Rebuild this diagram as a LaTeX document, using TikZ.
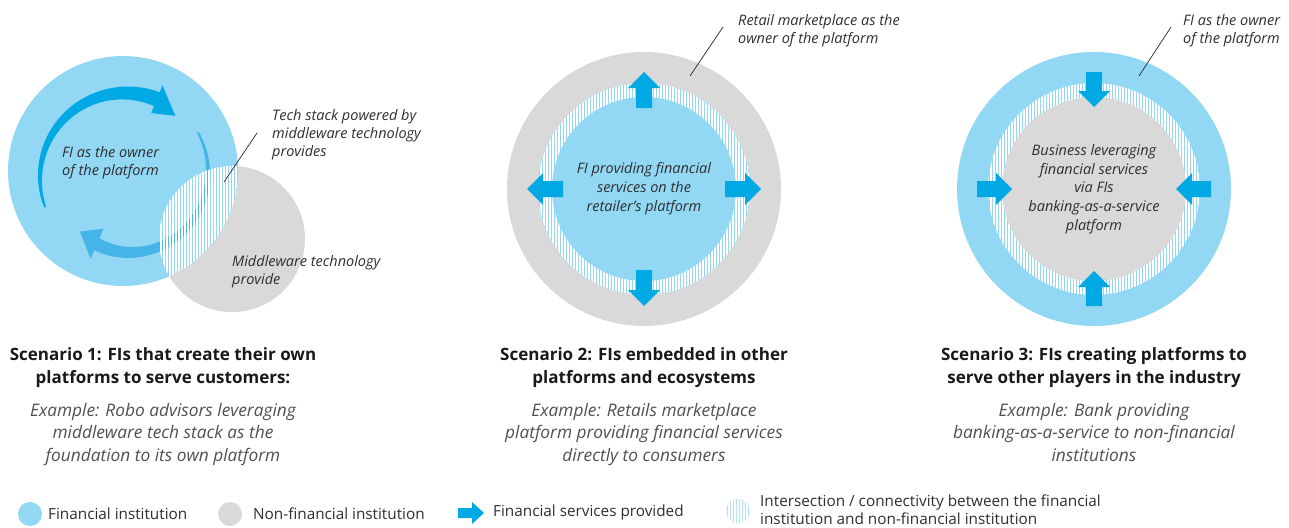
\documentclass[tikz,border=0pt]{standalone}
\usepackage{fontspec}
\setmainfont{Open Sans}
\usetikzlibrary{positioning}
\definecolor{fiblue}{HTML}{92D7F4}
\definecolor{nfgray}{HTML}{D9D9D9}
\definecolor{svcblue}{HTML}{00A9E4}
\definecolor{loopblue}{HTML}{45B4E6}
\definecolor{txtgray}{HTML}{2E2E2E}
\definecolor{exgray}{HTML}{505050}

\begin{document}
\begin{tikzpicture}[x=1pt,y=-1pt,
    note/.style={font=\fontsize{14.5}{18}\selectfont\itshape, text=txtgray, inner sep=0pt},
    title/.style={font=\fontsize{17}{23}\selectfont\bfseries, text=black!90, align=center, inner sep=0pt, anchor=north},
    example/.style={font=\fontsize{17.3}{22.5}\selectfont\itshape, text=exgray, align=center, inner sep=0pt, anchor=north},
    legend/.style={font=\fontsize{15.3}{18}\selectfont, text=txtgray, inner sep=0pt, anchor=west, align=left},
    hatch/.style={white, line width=1.6pt},
    leader/.style={black!85, line width=0.7pt}]
\useasboundingbox (0,0) rectangle (1289,527);

% scenario 1
\coordinate (c1) at (123,171);
\coordinate (c1b) at (232,239);
\coordinate (c1a) at (125,178);
\fill[nfgray] (c1b) circle (73);
\fill[fiblue] (c1) circle (115);
\fill[svcblue, shift={(c1a)}] plot[domain=200:68, samples=40] ({-\x}:{85+(1+6.5*(200-\x)/132)})
    -- (-68:100) -- (-51:80) -- (-68:70)
    -- plot[domain=68:200, samples=40] ({-\x}:{85-(1+6.5*(200-\x)/132)}) -- cycle;
\fill[loopblue, shift={(c1a)}] plot[domain=32:-113, samples=40] ({-\x}:{86-14*(32-\x)/145+(1+5.5*(32-\x)/145)})
    -- (113:88) -- (130:70) -- (113:55)
    -- plot[domain=-113:32, samples=40] ({-\x}:{86-14*(32-\x)/145-(1+5.5*(32-\x)/145)}) -- cycle;
\begin{scope}
  \clip (c1) circle (115);
  \clip (c1b) circle (73);
  \foreach \x in {158,161,...,240} \draw[hatch] (\x,160) -- (\x,300);
\end{scope}
\node[note, anchor=north west, align=left] (own1) at (62,146) {FI as the owner\\of the platform};
\node[note, anchor=north west, align=left] (tech1) at (272,109) {Tech stack powered by\\middleware technology\\provides};
\node[note, anchor=north west, align=left] (mid1) at (232,255) {Middleware technology\\provide};
\coordinate (l1a) at (257,133);
\coordinate (l1b) at (224,182);
\draw[leader] (l1a) -- (l1b);

% scenario 2
\coordinate (c2) at (644,189);
\fill[nfgray] (c2) circle (137);
\fill[fiblue] (c2) circle (106);
\begin{scope}
  \clip (c2) circle (106);
  \foreach \x in {538,541,...,751} \draw[hatch] (\x,80) -- (\x,300);
\end{scope}
\fill[fiblue] (c2) circle (92);
\foreach \a in {0,90,180,270}
  \fill[svcblue, shift={(c2)}, rotate=\a] (81,-8) -- (101,-8) -- (101,-16) -- (117,0) -- (101,16) -- (101,8) -- (81,8) -- cycle;
\node[note, align=center, font=\fontsize{14.5}{19}\selectfont\itshape] (fi2) at (c2) {FI providing financial\\services on the\\retailer’s platform};
\node[note, anchor=north west, align=left] (own2) at (738,14) {Retail marketplace as the\\owner of the platform};
\coordinate (l2a) at (723,27);
\coordinate (l2b) at (690,76);
\draw[leader] (l2a) -- (l2b);

% scenario 3
\coordinate (c3) at (1094,189);
\fill[fiblue] (c3) circle (137);
\fill[fiblue] (c3) circle (106);
\begin{scope}
  \clip (c3) circle (106);
  \foreach \x in {988,991,...,1201} \draw[hatch] (\x,80) -- (\x,300);
\end{scope}
\fill[nfgray] (c3) circle (92);
\foreach \a in {0,90,180,270}
  \fill[svcblue, shift={(c3)}, rotate=\a] (117,-8) -- (98,-8) -- (98,-16) -- (82,0) -- (98,16) -- (98,8) -- (117,8) -- cycle;
\node[note, align=center, font=\fontsize{14.5}{18.75}\selectfont\itshape] (biz3) at (c3) {Business leveraging\\financial services\\via FIs\\banking-as-a-service\\platform};
\node[note, anchor=north west, align=left] (own3) at (1183,14) {FI as the owner\\of the platform};
\coordinate (l3a) at (1171,27);
\coordinate (l3b) at (1139,76);
\draw[leader] (l3a) -- (l3b);

% titles and examples
\node[title] (s1) at (163,347) {Scenario 1: FIs that create their own\\platforms to serve customers:};
\node[title] (s2) at (644,347) {Scenario 2: FIs embedded in other\\platforms and ecosystems};
\node[title] (s3) at (1094,347) {Scenario 3: FIs creating platforms to\\serve other players in the industry};
\node[example] (e1) at (163,403) {Example: Robo advisors leveraging\\middleware tech stack as the\\foundation to its own platform};
\node[example] (e2) at (644,403) {Example: Retails marketplace\\platform providing financial services\\directly to consumers};
\node[example] (e3) at (1094,403) {Example: Bank providing\\banking-as-a-service to non-financial\\institutions};

% legend
\fill[fiblue] (30,514) circle (12);
\fill[nfgray] (230,514) circle (12);
\fill[svcblue] (458,508) -- (472,508) -- (472,502) -- (484,513) -- (472,524) -- (472,518) -- (458,518) -- cycle;
\fill[fiblue!70] (738,511) circle (12);
\begin{scope}
  \clip (738,511) circle (12);
  \foreach \x in {726,729,...,750} \draw[hatch] (\x,495) -- (\x,527);
\end{scope}
\node[legend] (lg1) at (48,514) {Financial institution};
\node[legend] (lg2) at (253,514) {Non-financial institution};
\node[legend] (lg3) at (493,513) {Financial services provided};
\node[legend] (lg4) at (760,510) {Intersection / connectivity between the financial\\institution and non-financial institution};
\end{tikzpicture}
\end{document}
